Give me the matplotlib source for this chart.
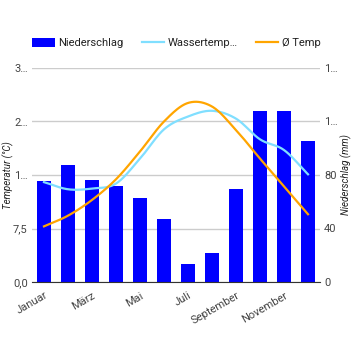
import numpy as np
import matplotlib
matplotlib.use('Agg')
import matplotlib.pyplot as plt
from matplotlib.patches import Patch
from matplotlib.lines import Line2D

plt.rcParams['font.family'] = ['Roboto', 'DejaVu Sans']

months = ['Januar', 'Februar', 'März', 'April', 'Mai', 'Juni', 'Juli',
          'August', 'September', 'Oktober', 'November', 'Dezember']
niederschlag = [75.7, 87.5, 76.3, 71.8, 62.8, 47.1, 13.5, 21.7, 69.5, 127.9, 127.9, 105.4]
wassertemp = [14.0, 13.0, 13.1, 13.8, 17.3, 21.4, 23.2, 24.0, 22.9, 20.0, 18.5, 15.1]
temp = [7.8, 9.3, 11.5, 14.4, 18.3, 22.5, 25.1, 24.6, 21.3, 17.3, 13.4, 9.5]

left_ticks = [0, 7.5, 15, 22.5, 30]
left_labels = ['0,0', '7,5', '1…', '2…', '3…']
right_ticks = [0, 40, 80, 120, 160]
right_labels = ['0', '40', '80', '1…', '1…']


def smooth(y, n=20):
    # Catmull-Rom Kurve durch die Punkte
    y = np.asarray(y, float)
    p = np.concatenate([[2 * y[0] - y[1]], y, [2 * y[-1] - y[-2]]])
    xs, ys = [], []
    for i in range(len(y) - 1):
        t = np.linspace(0, 1, n, endpoint=False)
        p0, p1, p2, p3 = p[i], p[i + 1], p[i + 2], p[i + 3]
        seg = 0.5 * ((2 * p1) + (-p0 + p2) * t + (2 * p0 - 5 * p1 + 4 * p2 - p3) * t ** 2
                     + (-p0 + 3 * p1 - 3 * p2 + p3) * t ** 3)
        xs.append(i + t)
        ys.append(seg)
    xs.append([len(y) - 1])
    ys.append([y[-1]])
    return np.concatenate(xs), np.concatenate(ys)


fig = plt.figure(figsize=(3.53, 3.5), dpi=100)
ax = fig.add_axes([32 / 353, 1 - 282 / 350, 288 / 353, 214 / 350])
x = np.arange(len(months))

ax.bar(x, niederschlag, width=0.58, color='#0000ff', zorder=2)
ax.set_ylim(0, 160)
ax.set_xlim(-0.5, 11.5)
ax.grid(axis='y', color='#cccccc', linewidth=1)
ax.set_axisbelow(True)
for s in ['top', 'left', 'right']:
    ax.spines[s].set_visible(False)
ax.spines['bottom'].set_color('#333333')
ax.set_xticks(x[::2])
ax.set_xticklabels(months[::2], rotation=30, ha='right', rotation_mode='anchor')
ax.tick_params(axis='x', length=0, pad=6, labelsize=8, labelcolor='#444444')

ax2 = ax.twinx()
# twinx setzt die Ticks der ersten Achse nach links, daher danach umstellen
ax.yaxis.tick_right()
ax.yaxis.set_label_position('right')
ax.set_yticks(right_ticks)
ax.set_yticklabels(right_labels)
ax.set_ylabel('Niederschlag (mm)', fontsize=7, style='italic', color='#222222',
              rotation=90, va='center')
ax.yaxis.set_label_coords((346 - 32) / 288, 0.5)
ax.tick_params(axis='y', length=0, pad=3, labelsize=8, labelcolor='#444444')

ax2.yaxis.tick_left()
ax2.yaxis.set_label_position('left')
xs, ys = smooth(wassertemp)
ax2.plot(xs, ys, color='#80dfff', linewidth=1.6)
xs, ys = smooth(temp)
ax2.plot(xs, ys, color='#ffa500', linewidth=1.6)
ax2.set_ylim(0, 30)
ax2.set_yticks(left_ticks)
ax2.set_yticklabels(left_labels)
ax2.set_ylabel('Temperatur (°C)', fontsize=7, style='italic', color='#222222', va='center')
ax2.yaxis.set_label_coords((8 - 32) / 288, 0.5)
ax2.tick_params(axis='y', length=0, pad=3, labelsize=8, labelcolor='#444444')
for s in ['top', 'left', 'right', 'bottom']:
    ax2.spines[s].set_visible(False)

handles = [Patch(facecolor='#0000ff', edgecolor='none'),
           Line2D([], [], color='#80dfff', linewidth=1.6),
           Line2D([], [], color='#ffa500', linewidth=1.6)]
fig.legend(handles, ['Niederschlag', 'Wassertemp…', 'Ø Temp'], loc='center',
           bbox_to_anchor=(0.5, 1 - 43 / 350), ncol=3, frameon=False,
           fontsize=8, handlelength=2.0, handleheight=0.9, columnspacing=1.6,
           handletextpad=0.35, labelcolor='#222222')

fig.savefig('out.png', dpi=100)
